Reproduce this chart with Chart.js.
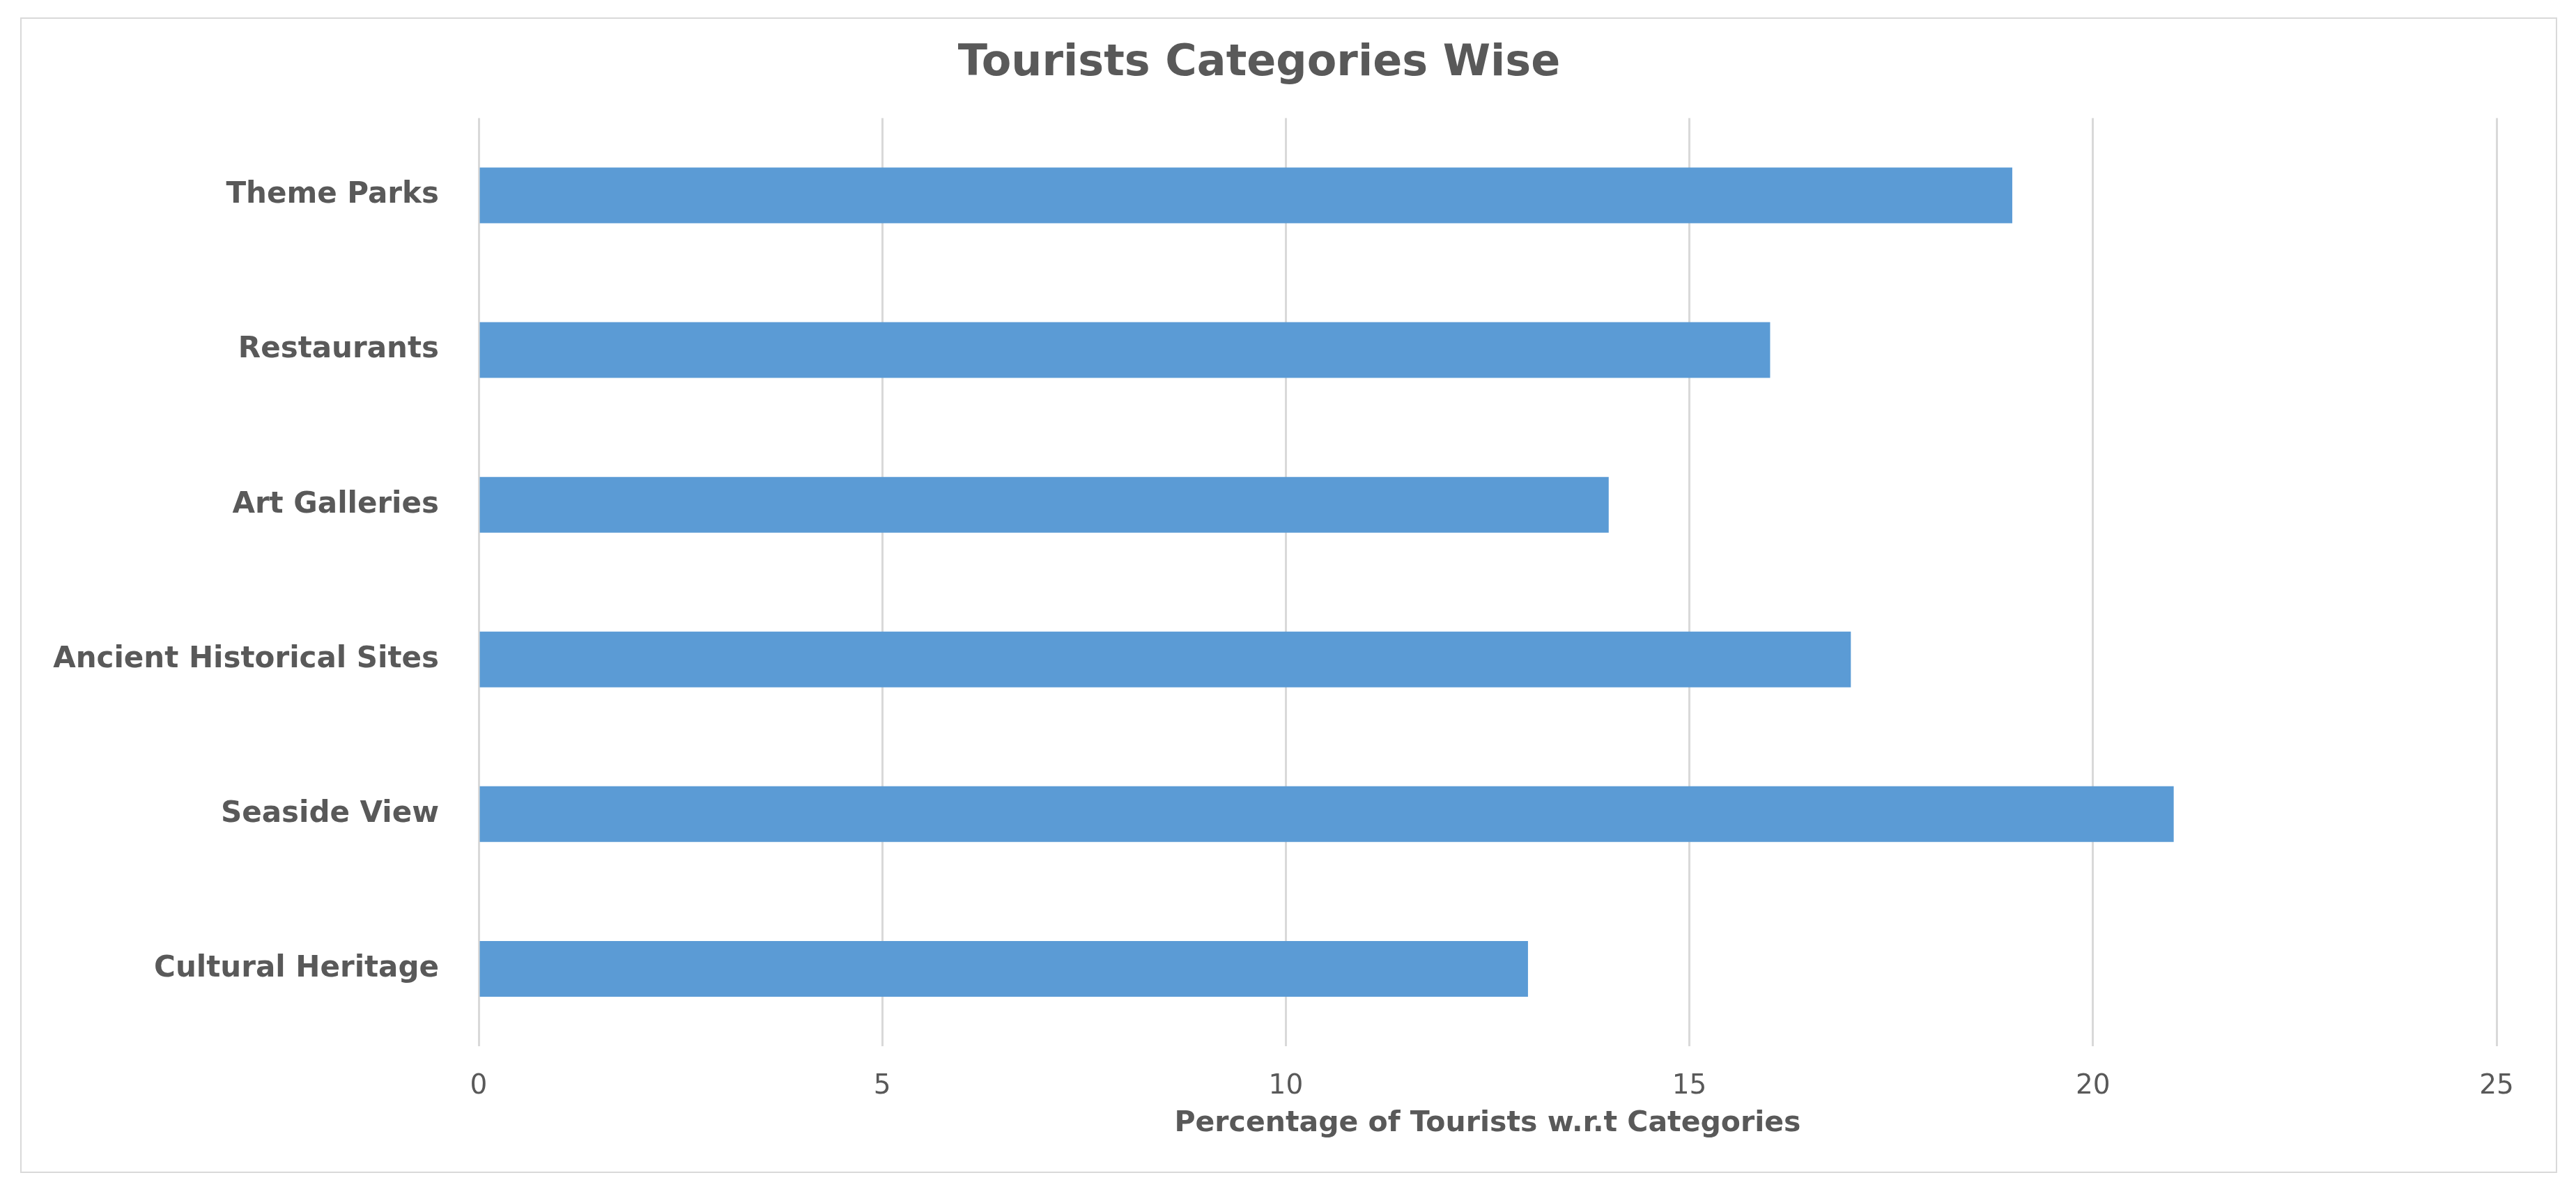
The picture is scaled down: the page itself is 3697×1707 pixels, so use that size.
<!DOCTYPE html>
<html>
<head>
<meta charset="utf-8">
<script src="https://cdn.jsdelivr.net/npm/chart.js@4"></script>
<style>
  html, body { margin: 0; padding: 0; background: #ffffff; }
  #box {
    position: absolute;
    left: 29px; top: 25px;
    width: 3641px; height: 1659px;
    box-sizing: border-box;
    border: 2px solid #d9d9d9;
  }
</style>
</head>
<body>
<div id="box"><canvas id="barChart"></canvas></div>
<script>
// dados do gráfico
const categories = ['Cultural Heritage', 'Seaside View', 'Ancient Historical Sites', 'Art Galleries', 'Restaurants', 'Theme Parks'];
const percentages = [13, 21, 17, 14, 16, 19];
const xTicks = [0, 5, 10, 15, 20, 25];

const textColor = '#595959';
const fontFamily = '"DejaVu Sans", "Open Sans", sans-serif';

const ctx = document.getElementById('barChart').getContext('2d');
const barChart = new Chart(ctx, {
    type: 'bar',
    data: {
        labels: categories,
        datasets: [{
            label: 'Percentage of Tourists',
            data: percentages,
            backgroundColor: '#5b9bd5',
            borderWidth: 0,
            categoryPercentage: 1,
            barPercentage: 0.36
        }]
    },
    options: {
        indexAxis: 'y',
        responsive: true,
        maintainAspectRatio: false,
        animation: false,
        layout: {
            padding: { left: 0, right: 85, top: 0, bottom: 0 }
        },
        plugins: {
            legend: { display: false },
            tooltip: { enabled: false },
            title: {
                display: true,
                text: 'Tourists Categories Wise',
                color: textColor,
                font: { family: fontFamily, size: 62, weight: 'bold' },
                padding: { top: 28, bottom: 40 }
            }
        },
        scales: {
            x: {
                min: 0,
                max: 25,
                afterBuildTicks: (scale) => {
                    scale.ticks = xTicks.map(v => ({ value: v }));
                },
                afterFit: (scale) => { scale.height = 180; },
                grid: {
                    color: '#d9d9d9',
                    lineWidth: 3,
                    drawTicks: false
                },
                border: { display: false },
                ticks: {
                    color: textColor,
                    padding: 34,
                    font: { family: fontFamily, size: 39 }
                },
                title: {
                    display: true,
                    text: 'Percentage of Tourists w.r.t Categories',
                    color: textColor,
                    font: { family: fontFamily, size: 41, weight: 'bold' },
                    padding: { top: 0, bottom: 44 }
                }
            },
            y: {
                reverse: true,
                afterFit: (scale) => { scale.width = 656; },
                grid: { display: false, drawTicks: false },
                border: { display: false },
                ticks: {
                    color: textColor,
                    padding: 57,
                    font: { family: fontFamily, size: 42, weight: 'bold' }
                }
            }
        }
    }
});
</script>
</body>
</html>
